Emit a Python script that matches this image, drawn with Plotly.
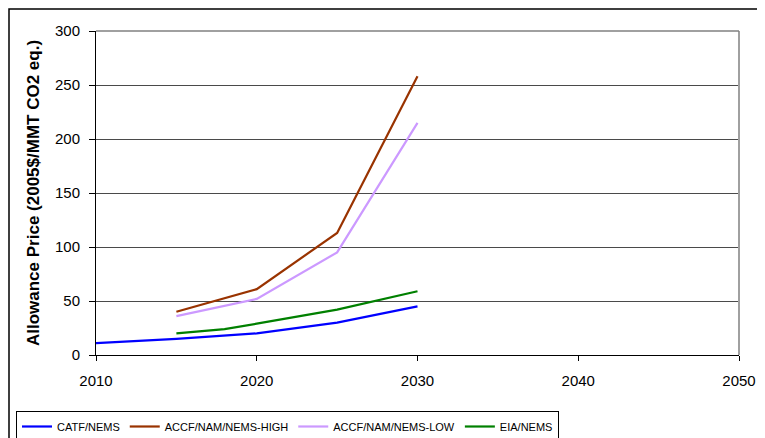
import plotly.graph_objects as go

# Data
catf_years = [2010, 2015, 2020, 2025, 2030]
catf_price = [11, 15, 20, 30, 45]

accf_high_years = [2015, 2020, 2025, 2030]
accf_high_price = [40, 61, 113, 258]

accf_low_years = [2015, 2020, 2025, 2030]
accf_low_price = [36, 52, 95, 215]

eia_years = [2015, 2018, 2020, 2025, 2030]
eia_price = [20, 24, 29, 42, 59]

series_names = ["CATF/NEMS", "ACCF/NAM/NEMS-HIGH", "ACCF/NAM/NEMS-LOW", "EIA/NEMS"]
series_colors = ["#0000FF", "#993300", "#CC99FF", "#008000"]

x_ticks = [2010, 2020, 2030, 2040, 2050]
y_ticks = [0, 50, 100, 150, 200, 250, 300]

FONT = "Liberation Sans, Arial, sans-serif"

fig = go.Figure()
for name, xs, ys, col in zip(
    series_names,
    [catf_years, accf_high_years, accf_low_years, eia_years],
    [catf_price, accf_high_price, accf_low_price, eia_price],
    series_colors,
):
    fig.add_trace(go.Scatter(x=xs, y=ys, mode="lines", name=name,
                             line=dict(color=col, width=2.2)))

# page body has an 8px margin: figure is sized/offset to compensate
fig.update_layout(
    width=757, height=430,
    margin=dict(l=88, r=26, t=23, b=83, autoexpand=False),
    paper_bgcolor="white", plot_bgcolor="white",
    font=dict(family=FONT, color="black", size=14),
    showlegend=True,
    legend=dict(
        orientation="h",
        x=(16 - 96) / 643, xanchor="left",
        y=(355 - 411) / 324, yanchor="top",
        bordercolor="black", borderwidth=1,
        font=dict(size=11, family=FONT),
        itemwidth=30, tracegroupgap=0,
    ),
    xaxis=dict(
        range=[2010, 2050], tickvals=x_ticks,
        showgrid=False, zeroline=False, automargin=False,
        showline=True, linecolor="black", linewidth=1,
        ticks="outside", ticklen=5, tickcolor="black",
        ticklabelstandoff=7,
        tickfont=dict(size=15),
    ),
    yaxis=dict(
        range=[0, 300], tickvals=y_ticks,
        showgrid=True, gridcolor="#4a4a4a", gridwidth=1,
        zeroline=False, automargin=False,
        showline=True, linecolor="black", linewidth=1,
        ticks="outside", ticklen=6, tickcolor="black",
        ticklabelstandoff=6,
        tickfont=dict(size=15),
        title=dict(text="<b>Allowance Price (2005$/MMT CO2 eq.)</b>",
                   font=dict(size=17), standoff=11),
    ),
    shapes=[
        # plot area right and top border
        dict(type="line", xref="paper", yref="paper", x0=1, x1=1, y0=0, y1=1,
             line=dict(color="#A0A0A0", width=2)),
        dict(type="line", xref="paper", yref="paper", x0=0, x1=1, y0=1, y1=1,
             line=dict(color="#808080", width=1.5)),
        # outer chart border (right/bottom out of frame)
        dict(type="rect", xref="paper", yref="paper",
             x0=(9 - 96) / 643, x1=1.3, y0=-0.5, y1=(355 - 9) / 324,
             line=dict(color="black", width=1.5), layer="below"),
    ],
)

fig.write_html("out.html")
